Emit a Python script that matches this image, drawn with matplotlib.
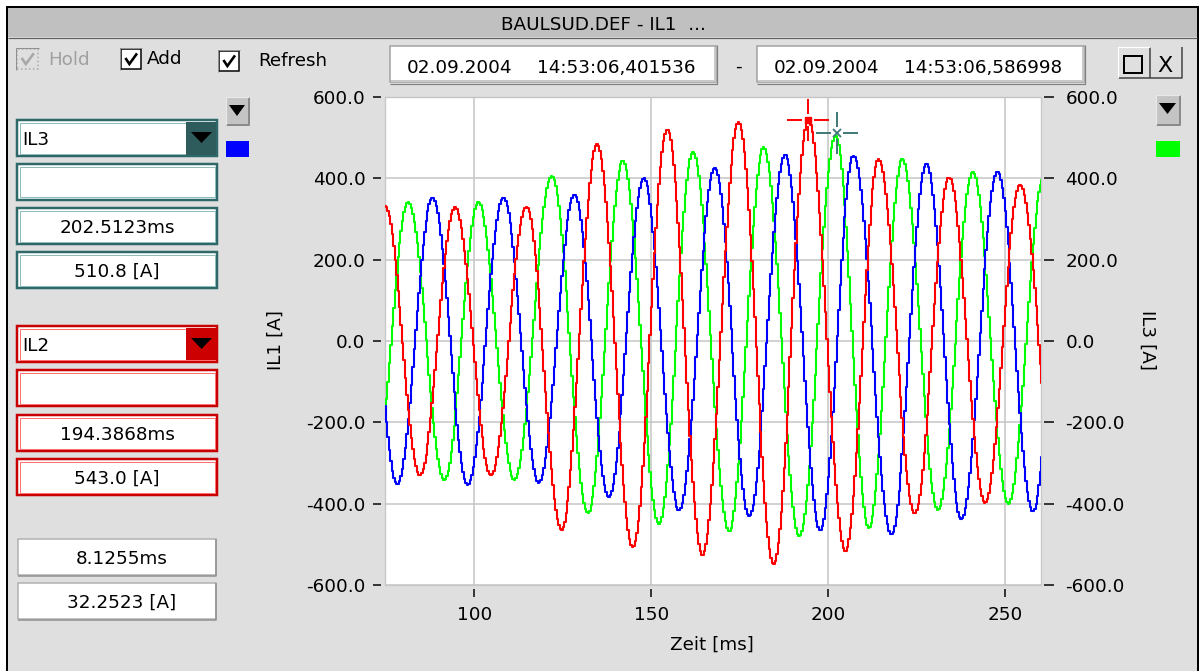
import numpy as np
import matplotlib
matplotlib.use("Agg")
import matplotlib.pyplot as plt
from matplotlib.patches import Rectangle, Polygon
from matplotlib.lines import Line2D
from matplotlib.path import Path
from matplotlib.ticker import FixedLocator, FuncFormatter

# ------------------------------------------------------------------ data
window_title = "BAULSUD.DEF - IL1  ..."
start_date, start_time = "02.09.2004", "14:53:06,401536"
end_date, end_time = "02.09.2004", "14:53:06,586998"
check_labels = ["Hold", "Add", "Refresh"]

# extrema (time in ms, current in A)
il2_red_t = [64.6, 74.7, 84.6, 94.5, 104.7, 114.7, 124.6, 134.7, 144.8, 154.5,
             164.5, 174.7, 184.6, 194.4, 204.9, 214.3, 224.5, 234.2, 244.4, 254.3, 265.0]
il2_red_v = [-330, 332, -330, 330, -330, 330, -464, 484, -507, 521,
             -527, 538, -548, 543, -517, 447, -424, 402, -398, 384, -390]

il3_blue_t = [68.2, 78.2, 88.2, 98.1, 108.2, 118.2, 128.3, 138.0, 147.9, 157.9,
              168.0, 177.7, 187.8, 197.8, 207.2, 217.9, 227.8, 237.7, 247.9, 257.9, 267.9]
il3_blue_v = [353, -353, 353, -353, 353, -349, 360, -383, 400, -417,
              425, -431, 458, -466, 456, -476, 437, -438, 416, -419, 410]

il1_green_t = [71.6, 81.3, 91.5, 101.1, 111.3, 121.9, 132.1, 142.0, 152.2, 161.8,
               172.0, 181.8, 191.9, 202.1, 211.5, 221.0, 231.1, 240.9, 251.0, 261.0]
il1_green_v = [-341, 341, -341, 341, -341, 406, -423, 443, -449, 464,
               -468, 476, -480, 505, -460, 447, -415, 415, -401, 400]

cursor_il2 = (194.3868, 543.0)
cursor_il3 = (202.5123, 510.8)
panel_il3 = ["IL3", "", "202.5123ms", "510.8 [A]"]
panel_il2 = ["IL2", "", "194.3868ms", "543.0 [A]"]
panel_diff = ["8.1255ms", "32.2523 [A]"]

x_ticks = [100, 150, 200, 250]
y_ticks = [-600, -400, -200, 0, 200, 400, 600]
x_range = (74.7, 260.2)
y_range = (-600, 600)
sample_ms = 20.0 / 48.0
x_label = "Zeit [ms]"
y_label_left = "IL1 [A]"
y_label_right = "IL3 [A]"

# ------------------------------------------------------------------ setup
plt.rcParams['font.family'] = ['DejaVu Sans']
W, H = 1203, 671
PX = 0.72  # points per pixel
fig = plt.figure(figsize=(W / 100, H / 100), dpi=100, facecolor='white')
FS = 13.2
BG = '#dfdfdf'


def X(x):
    return x / W


def Y(y):
    return 1 - y / H


def rect(x0, y0, x1, y1, fc, ec='none', lw=0, z=1, **kw):
    fig.add_artist(Rectangle((X(x0), Y(y1)), X(x1) - X(x0), Y(y0) - Y(y1),
                             transform=fig.transFigure, fc=fc, ec=ec, lw=lw,
                             zorder=z, **kw))


def line(xs, ys, color, lw, z=2, **kw):
    fig.add_artist(Line2D([X(v) for v in xs], [Y(v) for v in ys], color=color,
                          lw=lw, zorder=z, transform=fig.transFigure,
                          solid_capstyle='butt', **kw))


def poly(pts, color, z=3):
    fig.add_artist(Polygon([(X(a), Y(b)) for a, b in pts], closed=True,
                           transform=fig.transFigure, fc=color, ec='none', zorder=z))


def txt(x, y, s, z=4, **kw):
    kw.setdefault('fontsize', FS)
    kw.setdefault('va', 'center_baseline')
    fig.text(X(x), Y(y), s, zorder=z, **kw)


# window frame
rect(7, 7, 1198, 680, BG, ec='black', lw=2 * PX, z=-10)
rect(8, 8, 1197, 37, '#c0c0c0', z=-9)
line([8, 1197], [37.5, 37.5], '#606060', 1.2 * PX, z=-8)
txt(603, 23, window_title, ha='center')


# checkboxes
def checkbox(x0, y0, x1, y1, enabled=True):
    col = 'black' if enabled else '#a8a8a8'
    rect(x0, y0, x1, y1, 'white' if enabled else BG, ec=col, lw=1.5 * PX,
         z=1, ls='-' if enabled else ':')
    line([x0 - 1, x0 - 1, x1 + 1], [y1 + 1, y0 - 1, y0 - 1], '#909090', 1 * PX, z=1)
    w, h = x1 - x0, y1 - y0
    line([x0 + 0.22 * w, x0 + 0.42 * w, x0 + 0.8 * w],
         [y0 + 0.45 * h, y0 + 0.75 * h, y0 + 0.22 * h], col, 2.6 * PX, z=2,
         solid_joinstyle='miter')


checkbox(17, 49, 38, 69, enabled=False)
txt(48, 58, check_labels[0], color='#a0a0a0')
checkbox(121, 49, 141, 69)
txt(147, 57, check_labels[1])
checkbox(219, 51, 239, 71)
txt(258, 59, check_labels[2])


# date boxes
def datebox(x0, x1, d, t):
    rect(x0, 46, x1, 82, 'white', ec='#a0a0a0', lw=1.5 * PX)
    line([x0 + 1, x1 - 1, x1 - 1], [81, 81, 47], '#c8c8c8', 2 * PX)
    line([x1 + 1, x1 + 1, x0], [45, 84, 84], '#808080', 1.2 * PX)
    txt(x0 + 17, 66, d)
    txt(x0 + 147, 66, t)


datebox(390, 716, start_date, start_time)
txt(738, 65, "-", ha='center')
datebox(757, 1084, end_date, end_time)

# window buttons
rect(1118, 47, 1182, 78, BG, ec='none')
line([1118, 1182, 1182], [78, 78, 47], '#404040', 1.5 * PX)
line([1150, 1150], [47, 78], '#404040', 1.5 * PX)
line([1118, 1118, 1150], [78, 47, 47], 'white', 1.2 * PX)
rect(1124, 56, 1142, 73, 'none', ec='black', lw=2 * PX)
txt(1165, 64, "X", ha='center', fontsize=16)


# left panel boxes
def field(y0, y1, s, ec, inner, center=True, x0=17, x1=217):
    rect(x0, y0, x1, y1, 'white', ec=ec, lw=2.5 * PX)
    rect(x0 + 2.5, y0 + 2.5, x1 - 2.5, y1 - 2.5, 'none', ec=inner, lw=1 * PX)
    if s:
        if center:
            txt((x0 + x1) / 2, (y0 + y1) / 2, s, ha='center')
        else:
            txt(x0 + 5, (y0 + y1) / 2, s, ha='left')


def combo(y0, y1, s, ec, inner, dd):
    field(y0, y1, s, ec, inner, center=False)
    rect(186, y0 + 1.5, 215.5, y1 - 1.5, dd)
    cy = (y0 + y1) / 2
    poly([(191, cy - 6), (212, cy - 6), (201.5, cy + 5)], 'black')


teal, teal_in, teal_dd = '#2f6868', '#8cbcbc', '#2e5c5c'
red, red_in, red_dd = '#c80000', '#ff7070', '#cc0000'
combo(120, 156, panel_il3[0], teal, teal_in, teal_dd)
field(164, 200, panel_il3[1], teal, teal_in)
field(208, 244, panel_il3[2], teal, teal_in)
field(252, 288, panel_il3[3], teal, teal_in)
combo(326, 362, panel_il2[0], red, red_in, red_dd)
field(370, 406, panel_il2[1], red, red_in)
field(415, 451, panel_il2[2], red, red_in)
field(459, 495, panel_il2[3], red, red_in)

for (y0, y1), s in zip([(539, 575), (583, 619)], panel_diff):
    rect(18, y0, 216, y1, 'white', ec='#b0b0b0', lw=1.5 * PX)
    line([18, 216, 216], [y1 + 1, y1 + 1, y0], '#909090', 1.5 * PX)
    txt(122, (y0 + y1) / 2, s, ha='center')


# small dropdown buttons and colour swatches
def ddbutton(x0, y0, x1, y1):
    rect(x0, y0, x1, y1, '#c4c4c4')
    line([x0, x1, x1], [y1, y1, y0], '#8a8a8a', 2 * PX)
    line([x0, x0, x1], [y1, y0, y0], '#e8e8e8', 1.2 * PX)
    poly([(x0 + 3, y0 + 8), (x1 - 4, y0 + 8), ((x0 + x1) / 2 - 0.5, y0 + 19)], 'black')


ddbutton(226, 97, 249, 125)
rect(226, 141, 249, 157, '#0000ff')
ddbutton(1156, 95, 1180, 125)
rect(1156, 141, 1180, 157, '#00ff00')

# ------------------------------------------------------------------ plot
ax = fig.add_axes([X(385), Y(585), X(1041) - X(385), Y(97) - Y(585)])
ax.set_xlim(x_range)
ax.set_ylim(y_range)
ax.set_facecolor('white')
for sp in ax.spines.values():
    sp.set_visible(False)
ax.spines['left'].set_position(('outward', 3))
ax.spines['bottom'].set_position(('outward', 3))
ax.patch.set_edgecolor('#c8c8c8')
ax.patch.set_linewidth(1.0)
ax.xaxis.set_major_locator(FixedLocator(x_ticks))
ax.yaxis.set_major_locator(FixedLocator(y_ticks))
ax.xaxis.set_major_formatter(FuncFormatter(lambda v, p: f"{v:.0f}"))
ax.yaxis.set_major_formatter(FuncFormatter(lambda v, p: f"{v:.1f}"))
ax.tick_params(axis='both', direction='out', length=6, width=1.5 * PX,
               colors='black', labelsize=FS)
ax.tick_params(axis='y', pad=5)
ax.tick_params(axis='x', pad=6)
ax.grid(True, color='#c4c4c4', lw=1.5 * PX)
ax.set_axisbelow(True)

ax2 = ax.twinx()
ax2.set_ylim(y_range)
for sp in ax2.spines.values():
    sp.set_visible(False)
ax2.spines['right'].set_position(('outward', 2.5))
ax2.yaxis.set_major_locator(FixedLocator(y_ticks))
ax2.yaxis.set_major_formatter(FuncFormatter(lambda v, p: f"{v:.1f}"))
ax2.tick_params(axis='y', direction='out', length=7, width=1.5 * PX,
                colors='black', labelsize=FS, pad=8)


def wave(ext_t, ext_v, t):
    et = np.asarray(ext_t, float)
    ev = np.asarray(ext_v, float)
    i = np.clip(np.searchsorted(et, t, side='right') - 1, 0, len(et) - 2)
    t0, t1, v0, v1 = et[i], et[i + 1], ev[i], ev[i + 1]
    ph = np.clip((t - t0) / (t1 - t0), 0, 1)
    return (v0 + v1) / 2 + (v0 - v1) / 2 * np.cos(np.pi * ph)


t = np.arange(x_range[0], x_range[1] + sample_ms, sample_ms)
for et, ev, col in [(il1_green_t, il1_green_v, '#00ff00'),
                    (il3_blue_t, il3_blue_v, '#0000ff'),
                    (il2_red_t, il2_red_v, '#ff0000')]:
    ax.plot(t, wave(et, ev, t), color=col, lw=1.5, drawstyle='steps-mid', zorder=3)

# cursor crosses
cross = Path([(-21, 0), (-6, 0), (6, 0), (21, 0), (0, -21), (0, -6), (0, 6), (0, 21)],
             [Path.MOVETO, Path.LINETO] * 4)
ax.plot([cursor_il2[0]], [cursor_il2[1]], marker=cross, ms=30, mfc='none',
        mec='#ff0000', mew=1.4, zorder=5, clip_on=False)
ax.plot([cursor_il2[0]], [cursor_il2[1]], marker='s', ms=4.5, mfc='#ff0000',
        mec='#ff0000', zorder=5, clip_on=False)
ax.plot([cursor_il3[0]], [cursor_il3[1]], marker=cross, ms=30, mfc='none',
        mec='#3f7777', mew=1.4, zorder=5, clip_on=False)
ax.plot([cursor_il3[0]], [cursor_il3[1]], marker='x', ms=6, mec='#3f7777',
        mew=1.3, zorder=5, clip_on=False)

# axis titles
txt(712, 645, x_label, ha='center', va='center')
txt(276, 340, y_label_left, ha='center', va='center', rotation=90)
txt(1147, 340, y_label_right, ha='center', va='center', rotation=270)

fig.savefig("out.png", dpi=100, facecolor='white')
